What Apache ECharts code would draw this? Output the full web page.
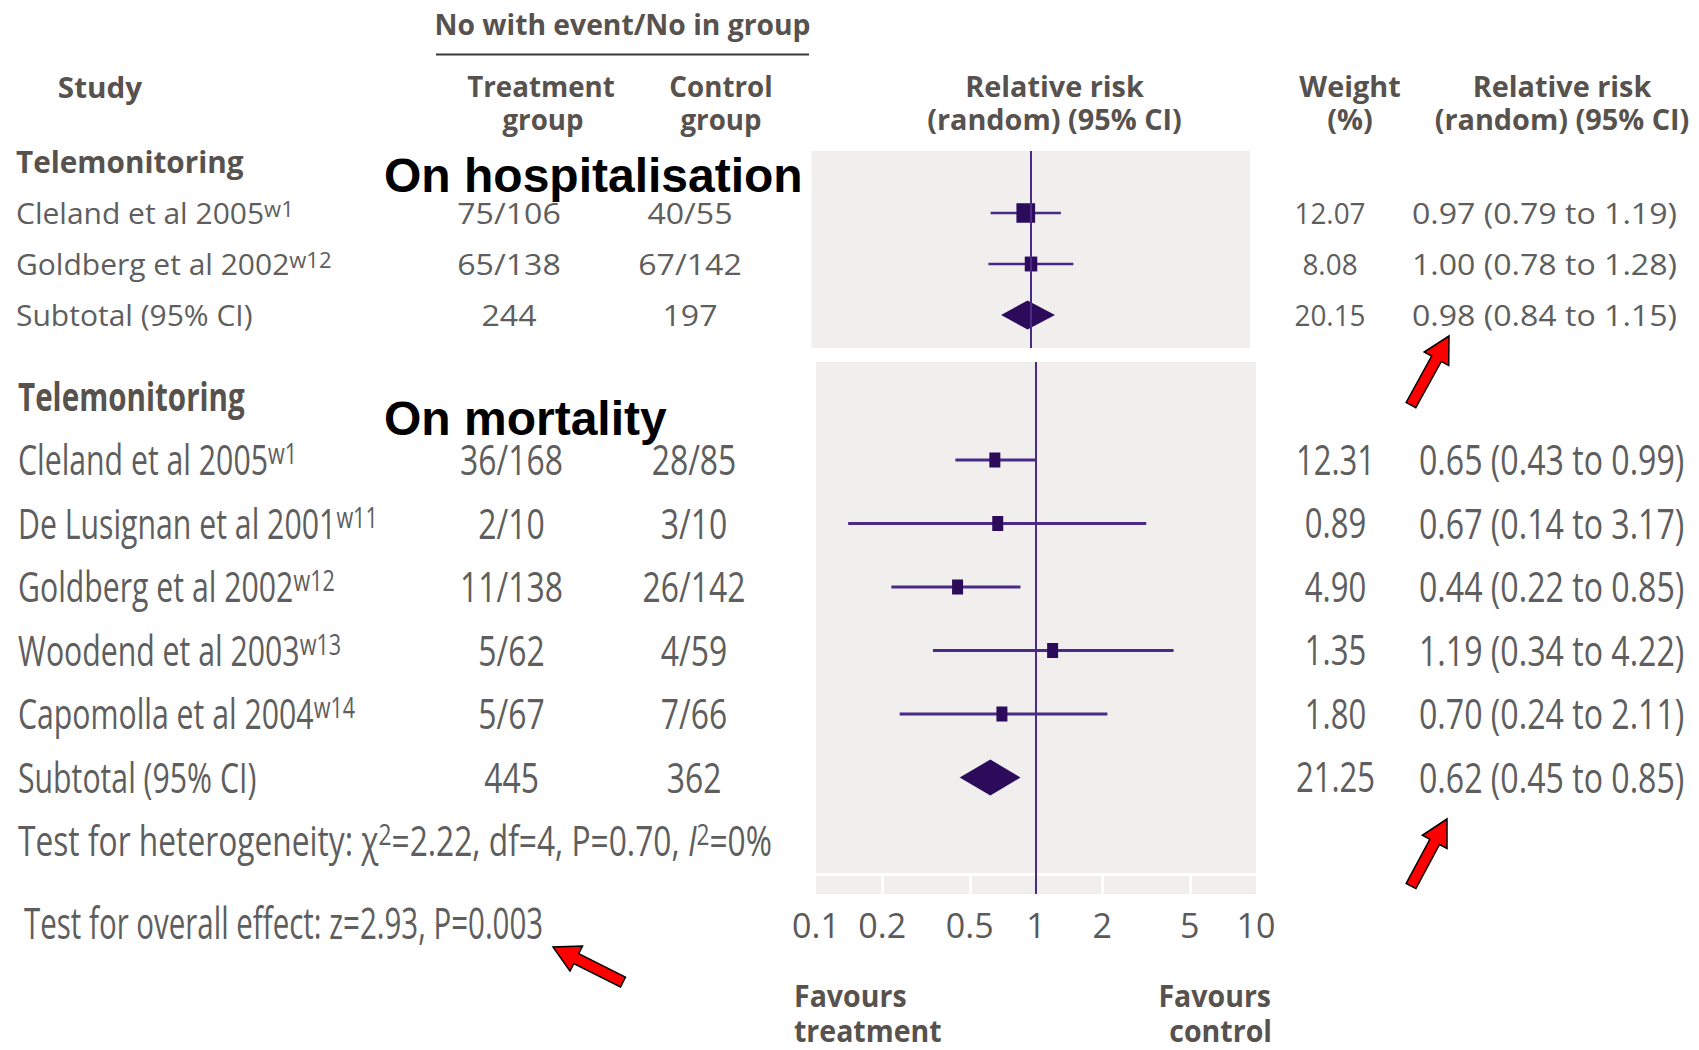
<!DOCTYPE html>
<html><head><meta charset="utf-8">
<script src="https://cdn.jsdelivr.net/npm/echarts@6/dist/echarts.min.js"></script>
<style>html,body{margin:0;padding:0;background:#fff}#c{width:1699px;height:1050px}</style>
</head><body><div id="c"></div>
<script>
// ---------------- DATA ----------------
// Panel 1: telemonitoring on hospitalisation
const hospStudies = ['Cleland et al 2005', 'Goldberg et al 2002'];
const hospRefs = ['w1', 'w12'];
const hospTreat = ['75/106', '65/138'];
const hospControl = ['40/55', '67/142'];
const hospWeight = [12.07, 8.08];
const hospRR = [0.97, 1.00];
const hospLow = [0.79, 0.78];
const hospHigh = [1.19, 1.28];
const hospSubCounts = [244, 197];
const hospSubWeight = 20.15;
const hospSubEffect = [0.98, 0.84, 1.15];

// Panel 2: telemonitoring on mortality
const mortStudies = ['Cleland et al 2005', 'De Lusignan et al 2001', 'Goldberg et al 2002', 'Woodend et al 2003', 'Capomolla et al 2004'];
const mortRefs = ['w1', 'w11', 'w12', 'w13', 'w14'];
const mortTreat = ['36/168', '2/10', '11/138', '5/62', '5/67'];
const mortControl = ['28/85', '3/10', '26/142', '4/59', '7/66'];
const mortWeight = [12.31, 0.89, 4.90, 1.35, 1.80];
const mortRR = [0.65, 0.67, 0.44, 1.19, 0.70];
const mortLow = [0.43, 0.14, 0.22, 0.34, 0.24];
const mortHigh = [0.99, 3.17, 0.85, 4.22, 2.11];
const mortSubCounts = [445, 362];
const mortSubWeight = 21.25;
const mortSubEffect = [0.62, 0.45, 0.85];
const mortHeterogeneity = ['2.22', '4', '0.70', '0'];   // chi2, df, P, I2
const mortOverall = ['2.93', '0.003'];                  // z, P

const tickLabels = [0.1, 0.2, 0.5, 1, 2, 5, 10];
const tickSeparators = [0.2, 0.5, 2, 5];

// ---------------- STYLE / LAYOUT ----------------
const FONT = "'Open Sans', 'Noto Sans', sans-serif";
const BODY = '#5e5e5e', HEAD = '#57524e';
const LINE_C = '#4a2a86', FILL_C = '#2c0b5b', PANEL_BG = '#f0efed';

const P = {
  hosp: {
    grid: {left: 811.5, top: 151, width: 438.5, height: 197},
    xMin: -0.5557, xMax: 0.5544, row0: 162, rowStep: 51,
    t: {size: 30, nameX: 16, nameSx: 1.0, sup: 22, head: 30, headSx: 0.99,
        treatX: 509, ctrlX: 690, countSx: 1.07, wtX: 1330, wtSx: 0.93, rrX: 1412, rrSx: 1.07, dy: -1},
    m: {lineW: 2.5, sq: w => [1.55 * w, 6 + 1.1 * w], dh: 14.5}
  },
  mort: {
    grid: {left: 816, top: 362, width: 440, height: 532},
    xMin: -1, xMax: 1, row0: 396.5, rowStep: 63.5,
    t: {size: 42, nameX: 18, nameSx: 0.72, sup: 30, head: 40, headSx: 0.74,
        treatX: 511.5, ctrlX: 694, countSx: 0.76, wtX: 1335.5, wtSx: 0.74, rrX: 1419, rrSx: 0.765, hetSx: 0.755, dy: -1},
    m: {lineW: 3, sq: w => [11, 15], dh: 18}
  }
};

const lg = v => Math.log10(v);
const f2 = v => v.toFixed(2);
const fmtRR = (r, l, h) => f2(r) + ' (' + f2(l) + ' to ' + f2(h) + ')';

function txt(text, x, y, o) {
  const st = {
    text: text, fill: o.color || BODY, fontSize: o.size, fontFamily: o.family || FONT,
    fontWeight: o.weight || 'normal', align: o.align || 'left', textAlign: o.align || 'left',
    verticalAlign: 'middle', textVerticalAlign: 'middle'
  };
  if (o.rich) st.rich = o.rich;
  return {type: 'text', x: x, y: y, scaleX: o.sx || 1, silent: true, style: st};
}

function buildRows(studies, refs, treat, ctrl, wt, rr, lo, hi, subC, subW, subE, het) {
  const rows = [{kind: 'head', name: 'Telemonitoring'}];
  studies.forEach((s, i) => rows.push({kind: 'study', name: s, sup: refs[i], treat: treat[i], ctrl: ctrl[i],
    wt: f2(wt[i]), rr: fmtRR(rr[i], lo[i], hi[i])}));
  rows.push({kind: 'study', name: 'Subtotal (95% CI)', treat: String(subC[0]), ctrl: String(subC[1]),
    wt: f2(subW), rr: fmtRR(subE[0], subE[1], subE[2])});
  if (het) rows.push({kind: 'het', vals: het});
  return rows;
}

function textRender(rows, cfg) {
  const t = cfg.t;
  return function (params, api) {
    const row = rows[params.dataIndex];
    const y = api.coord([0, api.value(1)])[1] + t.dy;
    const kids = [];
    if (row.kind === 'head') {
      kids.push(txt(row.name, t.nameX, y, {size: t.head, weight: 'bold', color: HEAD, sx: t.headSx}));
    } else if (row.kind === 'het') {
      const v = row.vals;
      const rich = {
        n: {fontSize: t.size, fontFamily: FONT, fill: BODY},
        i: {fontSize: t.size, fontFamily: FONT, fill: BODY, fontStyle: 'italic'},
        s: {fontSize: t.sup, fontFamily: FONT, fill: BODY, verticalAlign: 'top'}
      };
      const s = '{n|Test for heterogeneity: \u03c7}{s|2}{n|=' + v[0] + ', df=' + v[1] + ', P=' + v[2] + ', }{i|I}{s|2}{n|=' + v[3] + '%}';
      kids.push(txt(s, t.nameX, y, {size: t.size, sx: t.hetSx, rich: rich}));
    } else {
      const rich = {
        n: {fontSize: t.size, fontFamily: FONT, fill: BODY},
        s: {fontSize: t.sup, fontFamily: FONT, fill: BODY, verticalAlign: 'top'}
      };
      const s = '{n|' + row.name + '}' + (row.sup ? '{s|' + row.sup + '}' : '');
      kids.push(txt(s, t.nameX, y, {size: t.size, sx: t.nameSx, rich: rich}));
      kids.push(txt(row.treat, t.treatX, y, {size: t.size, sx: t.countSx, align: 'center'}));
      kids.push(txt(row.ctrl, t.ctrlX, y, {size: t.size, sx: t.countSx, align: 'center'}));
      kids.push(txt(row.wt, t.wtX, y, {size: t.size, sx: t.wtSx, align: 'center'}));
      kids.push(txt(row.rr, t.rrX, y, {size: t.size, sx: t.rrSx}));
    }
    return {type: 'group', children: kids};
  };
}

function forestData(rr, lo, hi, wt, subE, subW) {
  const d = rr.map((v, i) => [lg(v), i + 1, lg(lo[i]), lg(hi[i]), 0, wt[i]]);
  d.push([lg(subE[0]), rr.length + 1, lg(subE[1]), lg(subE[2]), 1, subW]);
  return d;
}

function forestRender(cfg) {
  return function (params, api) {
    const r = api.value(1);
    const c = api.coord([api.value(0), r]);
    const a = api.coord([api.value(2), r]);
    const b = api.coord([api.value(3), r]);
    if (api.value(4) === 1) {
      const h = cfg.m.dh;
      return {type: 'polygon', shape: {points: [[a[0], c[1]], [c[0], c[1] - h], [b[0], c[1]], [c[0], c[1] + h]]},
        style: {fill: FILL_C}};
    }
    const sz = cfg.m.sq(api.value(5));
    return {type: 'group', children: [
      {type: 'line', shape: {x1: a[0], y1: a[1], x2: b[0], y2: b[1]}, style: {stroke: LINE_C, lineWidth: cfg.m.lineW}},
      {type: 'rect', shape: {x: c[0] - sz[0] / 2, y: c[1] - sz[1] / 2, width: sz[0], height: sz[1]}, style: {fill: FILL_C}}
    ]};
  };
}

const hospRows = buildRows(hospStudies, hospRefs, hospTreat, hospControl, hospWeight, hospRR, hospLow, hospHigh,
  hospSubCounts, hospSubWeight, hospSubEffect, null);
const mortRows = buildRows(mortStudies, mortRefs, mortTreat, mortControl, mortWeight, mortRR, mortLow, mortHigh,
  mortSubCounts, mortSubWeight, mortSubEffect, mortHeterogeneity);

function yAxisFor(cfg, idx) {
  const g = cfg.grid;
  return {gridIndex: idx, type: 'value', inverse: true, show: false,
    min: (g.top - cfg.row0) / cfg.rowStep, max: (g.top + g.height - cfg.row0) / cfg.rowStep};
}

const tickVals = tickLabels.map(lg);
const sepVals = tickSeparators.map(lg);
function tickFmt(v) {
  let best = 0;
  tickVals.forEach((t, i) => { if (Math.abs(t - v) < Math.abs(tickVals[best] - v)) best = i; });
  return String(tickLabels[best]);
}

function arrow(tail, tip) {
  const sw = 11, hw = 28, hl = 26;
  const dx = tip[0] - tail[0], dy = tip[1] - tail[1], L = Math.hypot(dx, dy);
  const ux = dx / L, uy = dy / L, nx = -uy, ny = ux;
  const bx = tip[0] - ux * hl, by = tip[1] - uy * hl;
  const pts = [
    [tail[0] + nx * sw / 2, tail[1] + ny * sw / 2], [bx + nx * sw / 2, by + ny * sw / 2],
    [bx + nx * hw / 2, by + ny * hw / 2], tip, [bx - nx * hw / 2, by - ny * hw / 2],
    [bx - nx * sw / 2, by - ny * sw / 2], [tail[0] - nx * sw / 2, tail[1] - ny * sw / 2]];
  return {type: 'polygon', silent: true, z: 100, shape: {points: pts},
    style: {fill: '#ff0000', stroke: '#000', lineWidth: 1.5}};
}

const H = {size: 28, weight: 'bold', color: HEAD, sx: 1.03, align: 'center'};
const graphics = [
  txt('No with event/No in group', 622.5, 24, Object.assign({}, H, {sx: 1.01})),
  {type: 'line', silent: true, shape: {x1: 436, y1: 54.5, x2: 809, y2: 54.5}, style: {stroke: '#3a3a3a', lineWidth: 2}},
  txt('Study', 100, 87, Object.assign({}, H, {sx: 1.06})),
  txt('Treatment', 541, 86, Object.assign({}, H, {sx: 0.99})), txt('group', 543, 119, Object.assign({}, H, {sx: 0.99})),
  txt('Control', 721, 86, Object.assign({}, H, {sx: 0.99})), txt('group', 721, 119, Object.assign({}, H, {sx: 0.99})),
  txt('Relative risk', 1054.5, 86, H), txt('(random) (95% CI)', 1054.5, 119, H),
  txt('Weight', 1350, 86, H), txt('(%)', 1350, 119, H),
  txt('Relative risk', 1562, 86, H), txt('(random) (95% CI)', 1562, 119, H),
  txt('On hospitalisation', 384, 175, {size: 48, weight: 'bold', color: '#000', family: "'Liberation Sans', Arial, sans-serif"}),
  txt('On mortality', 384, 418, {size: 48, weight: 'bold', color: '#000', family: "'Liberation Sans', Arial, sans-serif"}),
  txt('Test for overall effect: z=' + mortOverall[0] + ', P=' + mortOverall[1], 24, 922, {size: 44, sx: 0.67}),
  txt('Favours', 794, 995, {size: 31, weight: 'bold', color: HEAD, sx: 0.92}),
  txt('treatment', 794, 1030, {size: 31, weight: 'bold', color: HEAD, sx: 0.92}),
  txt('Favours', 1271, 995, {size: 31, weight: 'bold', color: HEAD, sx: 0.92, align: 'right'}),
  txt('control', 1272, 1030, {size: 31, weight: 'bold', color: HEAD, sx: 0.92, align: 'right'}),
  arrow([1411, 405], [1449, 336]),
  arrow([1411, 886], [1447, 819]),
  arrow([623, 982], [553, 947])
];

const chart = echarts.init(document.getElementById('c'), null, {renderer: 'svg'});
chart.setOption({
  animation: false,
  backgroundColor: '#fff',
  grid: [
    Object.assign({show: true, backgroundColor: PANEL_BG, borderWidth: 0}, P.hosp.grid),
    Object.assign({show: true, backgroundColor: PANEL_BG, borderWidth: 0}, P.mort.grid)
  ],
  xAxis: [
    {gridIndex: 0, type: 'value', min: P.hosp.xMin, max: P.hosp.xMax, show: false},
    {gridIndex: 1, type: 'value', min: P.mort.xMin, max: P.mort.xMax, position: 'bottom', offset: -19.5,
      axisLine: {show: true, onZero: false, lineStyle: {color: '#ffffff', width: 3}},
      axisTick: {show: true, inside: false, length: 19, customValues: sepVals, lineStyle: {color: '#ffffff', width: 3}},
      axisLabel: {show: true, customValues: tickVals, formatter: tickFmt, margin: 33, fontSize: 34, color: '#5a5a5a',
        fontFamily: FONT, showMinLabel: true, showMaxLabel: true, hideOverlap: false},
      splitLine: {show: false}}
  ],
  yAxis: [yAxisFor(P.hosp, 0), yAxisFor(P.mort, 1)],
  series: [
    {type: 'custom', name: 'hosp-forest', xAxisIndex: 0, yAxisIndex: 0, clip: false, silent: true,
      data: forestData(hospRR, hospLow, hospHigh, hospWeight, hospSubEffect, hospSubWeight),
      renderItem: forestRender(P.hosp),
      markLine: {silent: true, symbol: 'none', label: {show: false}, lineStyle: {color: LINE_C, width: 2, type: 'solid'},
        data: [{xAxis: 0}]}},
    {type: 'custom', name: 'mort-forest', xAxisIndex: 1, yAxisIndex: 1, clip: false, silent: true,
      data: forestData(mortRR, mortLow, mortHigh, mortWeight, mortSubEffect, mortSubWeight),
      renderItem: forestRender(P.mort),
      markLine: {silent: true, symbol: 'none', label: {show: false}, lineStyle: {color: LINE_C, width: 2, type: 'solid'},
        data: [{xAxis: 0}]}},
    {type: 'custom', name: 'hosp-table', xAxisIndex: 0, yAxisIndex: 0, clip: false, silent: true,
      data: hospRows.map((r, i) => [0, i]), renderItem: textRender(hospRows, P.hosp)},
    {type: 'custom', name: 'mort-table', xAxisIndex: 1, yAxisIndex: 1, clip: false, silent: true,
      data: mortRows.map((r, i) => [0, i]), renderItem: textRender(mortRows, P.mort)}
  ],
  graphic: graphics
});
</script></body></html>
